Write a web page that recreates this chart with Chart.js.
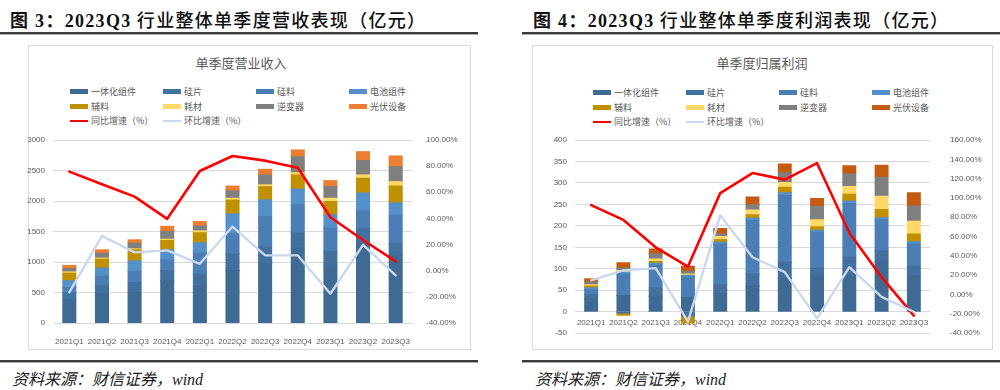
<!DOCTYPE html>
<html>
<head>
<meta charset="utf-8">
<script src="https://cdn.jsdelivr.net/npm/chart.js@4.4.0/dist/chart.umd.min.js"></script>
<style>
  body { margin: 0; width: 1000px; height: 390px; background: #fff; position: relative; overflow: hidden; font-family: "Noto Sans CJK SC", sans-serif; }
  .head { position: absolute; top: 6px; font-size: 18px; color: #111; white-space: nowrap; letter-spacing: 1.3px; font-weight: 500; }
  .head b { font-family: "Liberation Serif", "Noto Sans CJK SC", serif; font-weight: bold; }
  .rule { position: absolute; height: 2px; background: #3c3c3c; border-bottom: 1px solid #a6a6a6; }
  .box { position: absolute; border: 1px solid #d9d9d9; box-sizing: border-box; }
  canvas { position: absolute; }
  .ctitle { position: absolute; font-size: 13px; color: #595959; transform: translateX(-50%); white-space: nowrap; }
  .legend { position: absolute; display: grid; grid-template-columns: repeat(4, 93px); row-gap: 3px; }
  .legend div { display: flex; align-items: center; font-size: 9px; color: #595959; height: 11.5px; white-space: nowrap; }
  .legend span { display: inline-block; width: 18px; margin-right: 3px; }
  .src { position: absolute; top: 366px; font-size: 16px; font-style: italic; color: #222; font-family: "Liberation Serif", "Noto Sans CJK SC", serif; }
</style>
</head>
<body>

<div class="head" style="left:10px"><b>图 3：2023Q3</b> 行业整体单季度营收表现（亿元）</div>
<div class="head" style="left:533px"><b>图 4：2023Q3</b> 行业整体单季度利润表现（亿元）</div>
<div class="rule" style="left:0;top:32px;width:478px"></div>
<div class="rule" style="left:522px;top:32px;width:478px"></div>

<div class="box" style="left:28px;top:45px;width:443px;height:305px"></div>
<div class="box" style="left:532px;top:45px;width:461px;height:305px"></div>
<div class="ctitle" style="left:241px;top:53px">单季度营业收入</div>
<div class="ctitle" style="left:762px;top:53px">单季度归属利润</div>
<div class="legend" id="legL" style="left:70px;top:86px"></div>
<div class="legend" id="legR" style="left:593px;top:87px"></div>

<canvas id="revChart" width="453" height="305" style="left:18px;top:45px"></canvas>
<canvas id="profitChart" width="461" height="305" style="left:532px;top:45px"></canvas>

<div class="rule" style="left:0;top:360px;width:478px"></div>
<div class="rule" style="left:522px;top:360px;width:478px"></div>
<div class="src" style="left:12px">资料来源：财信证券，wind</div>
<div class="src" style="left:535px">资料来源：财信证券，wind</div>

<script>
// ─── data ─────────────────────────────────────────────
const quarters = ['2021Q1', '2021Q2', '2021Q3', '2021Q4', '2022Q1', '2022Q2', '2022Q3', '2022Q4', '2023Q1', '2023Q2', '2023Q3'];
const segNames = ['一体化组件', '硅片', '硅料', '电池组件', '辅料', '耗材', '逆变器', '光伏设备'];
const lineNames = ['同比增速（%）', '环比增速（%）'];

// 营业收入 (亿元)
const revIntegrated = [382, 480, 500, 694, 600, 860, 980, 1230, 930, 1300, 1115];
const revWafer      = [110, 135, 165, 164, 205, 275, 270, 245, 245, 250, 190];
const revPoly       = [90, 155, 180, 175, 340, 330, 500, 465, 380, 290, 465];
const revCell       = [110, 130, 175, 167, 170, 325, 270, 255, 220, 290, 200];
const revAux        = [125, 147, 180, 153, 165, 225, 215, 232, 216, 243, 276];
const revConsum     = [20, 17, 16, 20, 30, 30, 30, 38, 54, 54, 71];
const revInverter   = [55, 81, 93, 130, 80, 120, 160, 262, 191, 235, 246];
const revEquip      = [52, 55, 55, 82, 74, 80, 95, 110, 98, 147, 175];
const revYoY = [75.8, 66.2, 56.7, 39.7, 76.3, 87.8, 84.2, 78.8, 40.9, 23.5, 7.1];
const revQoQ = [-16.5, 26.7, 14.0, 15.5, 5.3, 33.8, 11.7, 11.7, -17.6, 19.8, -3.6];

// 归属利润 (亿元)
const proIntegrated = [30, 38, 36, 33, 42, 60, 78, 85, 86, 118, 83];
const proWafer      = [10, -3, 19, -10, 21, 28, 37, 17, 41, 24, 23];
const proPoly       = [12, 50, 54, 48, 95, 125, 156, 83, 125, 72, 52];
const proCell       = [4, 4, 4, 4, 4, 5, 6, 5, 6, 5, 5];
const proAux        = [4, -5, 4, -16, 6, 8, 13, 8, 15.5, 19, 18];
const proConsum     = [3, 4, 6, 3, 7, 11, 11, 16, 18, 31, 30];
const proInverter   = [6, 6, 12, 6, 6, 12, 23, 31, 30, 44, 35];
const proEquip      = [8, 12, 11, 12, 13, 18, 20, 19, 18.5, 28, 31];
const proYoY = [92.6, 77.3, 48.9, 29.0, 105, 125.8, 119, 136, 64, 18, -21.8];
const proQoQ = [14.7, 25, 27.4, -28, 82, 38.6, 23.2, -24.6, 28.4, -2.4, -17.8];

// ─── colours ──────────────────────────────────────────
const blues = ['#3f6a94', '#43719f', '#4a7eb5', '#5690cb'];
const segColorsL = [...blues, '#bf9000', '#ffd966', '#7f7f7f', '#ed7d31'];
const segColorsR = [...blues, '#bf9000', '#ffd966', '#7f7f7f', '#c55a11'];
const lineColors = ['#ff0000', '#c9d8ee'];

const tickFont = { family: 'Liberation Sans', size: 8 };
const tickColor = '#595959';

function buildLegend(id, colors) {
  const el = document.getElementById(id);
  segNames.forEach((n, i) => {
    el.insertAdjacentHTML('beforeend', `<div><span style="height:5px;background:${colors[i]}"></span>${n}</div>`);
  });
  lineNames.forEach((n, i) => {
    el.insertAdjacentHTML('beforeend', `<div><span style="height:2.5px;background:${lineColors[i]}"></span>${n}</div>`);
  });
}
buildLegend('legL', segColorsL);
buildLegend('legR', segColorsR);

function makeDatasets(segs, colors, yoy, qoq) {
  const ds = segs.map((data, i) => ({
    type: 'bar', label: segNames[i], data, backgroundColor: colors[i],
    stack: 's', yAxisID: 'y', order: 2, inflateAmount: 0.5,
    barPercentage: 0.4, categoryPercentage: 1
  }));
  [yoy, qoq].forEach((data, i) => ds.push({
    type: 'line', label: lineNames[i], data, yAxisID: 'y1',
    borderColor: lineColors[i], borderWidth: i === 0 ? 2.6 : 2.4,
    pointRadius: 0, tension: 0, fill: false, order: 1 - i,
    borderJoinStyle: 'round', borderCapStyle: 'round'
  }));
  return ds;
}

// category labels at the zero line (Excel style, right chart)
const zeroLabels = {
  id: 'zeroLabels',
  beforeDatasetsDraw(chart) {
    const { ctx, scales: { x, y } } = chart;
    const y0 = y.getPixelForValue(0) + 11;
    ctx.save();
    ctx.font = '8px "Liberation Sans"';
    ctx.fillStyle = tickColor;
    ctx.textAlign = 'center';
    ctx.textBaseline = 'middle';
    quarters.forEach((q, i) => ctx.fillText(q, x.getPixelForValue(i), y0));
    ctx.restore();
  }
};

function makeChart(id, datasets, yOpt, y1Opt, widths, showX, plugins) {
  return new Chart(document.getElementById(id), {
    type: 'bar',
    data: { labels: quarters, datasets },
    plugins,
    options: {
      responsive: false, animation: false, devicePixelRatio: 1,
      layout: { padding: { top: 95, left: 0, right: 0, bottom: 0 } },
      plugins: { legend: { display: false }, tooltip: { enabled: false } },
      scales: {
        x: {
          stacked: true, offset: true,
          grid: { display: false }, border: { display: false },
          ticks: { display: showX, font: tickFont, color: tickColor, padding: 6, maxRotation: 0, autoSkip: false },
          afterFit: s => { s.height = widths[2]; }
        },
        y: Object.assign({
          stacked: true, position: 'left',
          grid: { color: '#d9d9d9', lineWidth: 1, drawTicks: false }, border: { display: false },
          afterFit: s => { s.width = widths[0]; }
        }, yOpt),
        y1: Object.assign({
          position: 'right',
          grid: { display: false }, border: { display: false },
          afterFit: s => { s.width = widths[1]; }
        }, y1Opt)
      }
    }
  });
}

// ─── 图3 营收 ───
makeChart('revChart',
  makeDatasets([revIntegrated, revWafer, revPoly, revCell, revAux, revConsum, revInverter, revEquip], segColorsL, revYoY, revQoQ),
  { min: 0, max: 3000, ticks: { stepSize: 500, font: tickFont, color: tickColor, padding: 8, callback: v => String(v) } },
  { min: -40, max: 100, ticks: { stepSize: 20, font: tickFont, color: tickColor, padding: 6, callback: v => v.toFixed(2) + '%' } },
  [35, 59, 27], true, []);

// ─── 图4 利润 ───
makeChart('profitChart',
  makeDatasets([proIntegrated, proWafer, proPoly, proCell, proAux, proConsum, proInverter, proEquip], segColorsR, proYoY, proQoQ),
  { min: -50, max: 400, ticks: { stepSize: 50, font: tickFont, color: tickColor, padding: 8, callback: v => String(v) } },
  { min: -40, max: 160, ticks: { stepSize: 20, font: tickFont, color: tickColor, padding: 12, callback: v => v.toFixed(2) + '%' } },
  [43, 63, 15], false, [zeroLabels]);
</script>
</body>
</html>
